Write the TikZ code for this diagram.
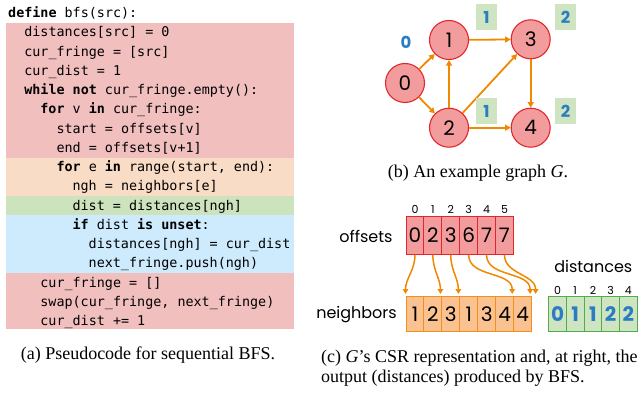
\documentclass[tikz,border=0pt]{standalone}
\usepackage{fontspec}
\setmainfont{Liberation Serif}
\setmonofont{DejaVu Sans Mono}
\newfontfamily\geofont{Poppins}
\usetikzlibrary{calc,arrows.meta,positioning}
\definecolor{CodeRed}{HTML}{F2BFBF}
\definecolor{CodeOrange}{HTML}{F9DCC6}
\definecolor{CodeGreen}{HTML}{CDE3BD}
\definecolor{CodeBlue}{HTML}{CDEBFC}
\definecolor{LRed}{HTML}{F29C9E}
\definecolor{DRed}{HTML}{E3262B}
\definecolor{LOrange}{HTML}{F9C290}
\definecolor{DOrange}{HTML}{F39019}
\definecolor{EdgeOrange}{HTML}{F08800}
\definecolor{LGreen}{HTML}{CFE4C0}
\definecolor{DGreen}{HTML}{4DAE4A}
\definecolor{DistBlue}{HTML}{2B7DC2}
\tikzset{
    code/.style={anchor=base west, inner sep=0pt, font=\fontsize{13.4}{16}\selectfont\ttfamily},
    vertex/.style={circle, draw=DRed, fill=LRed, line width=1.1pt, minimum size=39pt,
        inner sep=0pt, font=\geofont\fontsize{20}{20}\selectfont},
    edge/.style={EdgeOrange, line width=1.8pt, -{Triangle[length=5.5pt,width=6pt]}},
    distnum/.style={inner sep=0pt, text=DistBlue, font=\geofont\bfseries\fontsize{16.5}{16.5}\selectfont},
    distbox/.style={distnum, fill=LGreen, minimum width=21pt, minimum height=26pt},
    cell/.style={draw, line width=1pt, inner sep=0pt, minimum width=17.9pt,
        font=\geofont\fontsize{20}{20}\selectfont},
    offcell/.style={cell, draw=DRed, fill=LRed, minimum height=37.6pt},
    nghcell/.style={cell, draw=DOrange, fill=LOrange, minimum height=35pt},
    distcell/.style={cell, draw=DGreen, fill=LGreen, minimum height=35pt, minimum width=17.7pt,
        text=DistBlue, font=\geofont\bfseries\fontsize{20}{20}\selectfont},
    index/.style={inner sep=0pt, font=\geofont\fontsize{11}{11}\selectfont},
    arrname/.style={inner sep=0pt, font=\geofont\fontsize{16}{16}\selectfont},
    caption/.style={inner sep=0pt, font=\fontsize{18}{20}\selectfont},
}
% one line of pseudocode: #1 = line number, #2 = indent level
\NewDocumentCommand{\CodeLine}{m m m}{
    \node[code] (code-#1) at ({8+16.1*#2}, {-13-19.25*#1-4.6}) {#3};
}

\begin{document}
\begin{tikzpicture}[x=1pt, y=1pt]
\useasboundingbox (0,0) rectangle (640,-393);

% --- pseudocode ---
\fill[CodeRed]    (6,-23)  rectangle (294,-158);
\fill[CodeOrange] (6,-158) rectangle (294,-196);
\fill[CodeGreen]  (6,-196) rectangle (294,-215);
\fill[CodeBlue]   (6,-215) rectangle (294,-273);
\fill[CodeRed]    (6,-273) rectangle (294,-329);

\CodeLine{0}{0}{\textbf{define} bfs(src):}
\CodeLine{1}{1}{distances[src] = 0}
\CodeLine{2}{1}{cur\_fringe = [src]}
\CodeLine{3}{1}{cur\_dist = 1}
\CodeLine{4}{1}{\textbf{while not} cur\_fringe.empty():}
\CodeLine{5}{2}{\textbf{for} v \textbf{in} cur\_fringe:}
\CodeLine{6}{3}{start = offsets[v]}
\CodeLine{7}{3}{end = offsets[v+1]}
\CodeLine{8}{3}{\textbf{for} e \textbf{in} range(start, end):}
\CodeLine{9}{4}{ngh = neighbors[e]}
\CodeLine{10}{4}{dist = distances[ngh]}
\CodeLine{11}{4}{\textbf{if} dist \textbf{is unset}:}
\CodeLine{12}{5}{distances[ngh] = cur\_dist}
\CodeLine{13}{5}{next\_fringe.push(ngh)}
\CodeLine{14}{2}{cur\_fringe = []}
\CodeLine{15}{2}{swap(cur\_fringe, next\_fringe)}
\CodeLine{16}{2}{cur\_dist += 1}

\node[caption] (cap-a) at (148,-355) {(a) Pseudocode for sequential BFS.};

% --- example graph ---
\node[vertex] (n0) at (405,-83)    {0};
\node[vertex] (n1) at (449,-40)  {1};
\node[vertex] (n2) at (449,-127.7) {2};
\node[vertex] (n3) at (530.7,-39.3)  {3};
\node[vertex] (n4) at (530.7,-127.7) {4};

\draw[edge] (n0) -- (n1);
\draw[edge] (n0) -- (n2);
\draw[edge] (n2.north) -- (n1.south);
\draw[edge] (n1) -- (n3);
\draw[edge] (n2) -- (n3);
\draw[edge] (n2) -- (n4);
\draw[edge] (n3) -- (n4);

\node[distnum] (d0) at (406,-42)     {0};
\node[distbox] (d1) at (486.5,-17)   {1};
\node[distbox] (d3) at (565.5,-17)   {2};
\node[distbox] (d2) at (486.5,-111.5) {1};
\node[distbox] (d4) at (565.5,-111.5) {2};

\node[caption] (cap-b) at (478,-173) {(b) An example graph \textit{G}.};

% --- CSR arrays ---
\foreach \v [count=\i from 0] in {0,2,3,6,7,7} {
    \node[offcell] (off-\i) at ({406+17.9*(\i+0.5)},-235.5) {\v};
    \node[index] at ($(off-\i.north)+(0,6.7)$) {\i};
}
\foreach \v [count=\i from 0] in {1,2,3,1,3,4,4}
    \node[nghcell] (ngh-\i) at ({406+17.95*(\i+0.5)},-314.2) {\v};
\foreach \v [count=\i from 0] in {0,1,1,2,2} {
    \node[distcell] (dist-\i) at ({548.7+17.7*(\i+0.5)},-314.2) {\v};
    \node[index] at ($(dist-\i.north)+(0,5.7)$) {\i};
}

\node[arrname, anchor=east] (off-name) at (392.7,-236.7) {offsets};
\node[arrname, anchor=east] (ngh-name) at (397,-315) {neighbors};
\node[arrname] (dist-name) at (593.3,-266.7) {distances};

\coordinate (end-0) at ($(ngh-0.north west)+(0,2.2)$);
\coordinate (end-1) at ($(ngh-2.north west)+(-1,2.2)$);
\coordinate (end-2) at ($(ngh-3.north west)+(-1,2.2)$);
\coordinate (end-3) at ($(ngh-6.north west)+(-1,2.2)$);
\coordinate (end-4) at ($(ngh-6.north east)+(-2,2.2)$);
\coordinate (end-5) at ($(ngh-6.north east)+(3.5,2.2)$);
\foreach \i in {0,...,5}
    \draw[EdgeOrange, line width=1.5pt, -{Triangle[length=5pt,width=5.5pt]}]
        (off-\i.south) to[out=-90, in=90] (end-\i);

\node[caption, align=left, anchor=west] (cap-c) at (321,-368.3)
    {(c) \textit{G}’s CSR representation and, at right, the\\
     output (distances) produced by BFS.};
\end{tikzpicture}
\end{document}
